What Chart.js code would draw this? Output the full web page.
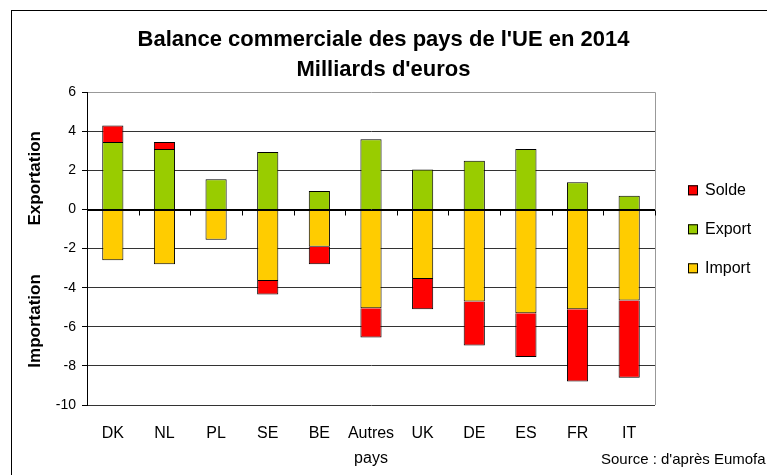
<!DOCTYPE html>
<html>
<head>
<meta charset="utf-8">
<script src="https://cdn.jsdelivr.net/npm/chart.js@4.4.1/dist/chart.umd.min.js"></script>
<style>
    body { margin: 0; background: #fff; }
    #wrap { width: 767px; height: 475px; position: relative; }
</style>
</head>
<body>
<div id="wrap"><canvas id="balanceChart"></canvas></div>
<script>
// ==================== DATA ====================

const countries = ['DK', 'NL', 'PL', 'SE', 'BE', ['Autres', 'pays'], 'UK', 'DE', 'ES', 'FR', 'IT'];
const exportValues = [3.45, 3.1, 1.55, 2.95, 0.95, 3.6, 2.05, 2.5, 3.1, 1.4, 0.7];
const importValues = [-2.6, -2.8, -1.55, -3.65, -1.9, -5.05, -3.55, -4.7, -5.3, -5.1, -4.65];
const soldeValues = [0.85, 0.35, 0, -0.7, -0.9, -1.5, -1.55, -2.25, -2.25, -3.7, -3.95];
const yTicks = [-10, -8, -6, -4, -2, 0, 2, 4, 6];

const titleLines = ["Balance commerciale des pays de l'UE en 2014", "Milliards d'euros"];
const sourceText = "Source : d'après Eumofa";

const COLORS = {
    solde: '#ff0000',
    export: '#99cc00',
    import: '#ffcc00'
};

Chart.defaults.font.family = "'Liberation Sans', Arial, sans-serif";
Chart.defaults.color = '#000';

// ==================== PLUGINS ====================

// white background + outer frame, source note
const framePlugin = {
    id: 'frame',
    beforeDraw(chart) {
        const ctx = chart.ctx;
        ctx.save();
        ctx.fillStyle = '#fff';
        ctx.fillRect(0, 0, chart.width, chart.height);
        ctx.strokeStyle = '#000';
        ctx.lineWidth = 1;
        ctx.strokeRect(11.5, 10.5, chart.width + 20, chart.height + 20);
        ctx.restore();
    },
    afterDraw(chart) {
        const ctx = chart.ctx;
        ctx.save();
        ctx.font = "15px 'Liberation Sans', Arial, sans-serif";
        ctx.fillStyle = '#000';
        ctx.textBaseline = 'middle';
        ctx.fillText(sourceText, 601, 460);
        ctx.restore();
    }
};

// plot border on the right, tick marks on the zero line, side titles
const axisExtrasPlugin = {
    id: 'axisExtras',
    afterDatasetsDraw(chart) {
        const { ctx, chartArea, scales } = chart;
        const x = scales.x;
        const y = scales.y;
        ctx.save();

        ctx.strokeStyle = '#999';
        ctx.lineWidth = 1;
        ctx.beginPath();
        ctx.moveTo(Math.round(chartArea.right) + 0.5, chartArea.top);
        ctx.lineTo(Math.round(chartArea.right) + 0.5, chartArea.bottom);
        ctx.stroke();

        // zero line with short marks between categories
        const zero = Math.round(y.getPixelForValue(0)) + 0.5;
        const step = x.getPixelForValue(1) - x.getPixelForValue(0);
        ctx.strokeStyle = '#000';
        ctx.beginPath();
        ctx.moveTo(chartArea.left, zero);
        ctx.lineTo(chartArea.right, zero);
        for (let i = 0; i < countries.length; i++) {
            const px = Math.round(x.getPixelForValue(i) + step / 2) + 0.5;
            ctx.moveTo(px, zero);
            ctx.lineTo(px, zero + 5);
        }
        ctx.stroke();

        ctx.font = "bold 17px 'Liberation Sans', Arial, sans-serif";
        ctx.fillStyle = '#000';
        ctx.textAlign = 'center';
        ctx.textBaseline = 'middle';
        [['Exportation', 1.6], ['Importation', -5.7]].forEach(([label, v]) => {
            ctx.save();
            ctx.translate(35, y.getPixelForValue(v));
            ctx.rotate(-Math.PI / 2);
            ctx.fillText(label, 0, 0);
            ctx.restore();
        });
        ctx.restore();
    }
};

// legend on the right: Solde, Export, Import
const sideLegendPlugin = {
    id: 'sideLegend',
    afterDraw(chart) {
        const { ctx, chartArea } = chart;
        const items = chart.data.datasets.slice().reverse();
        ctx.save();
        ctx.font = "16px 'Liberation Sans', Arial, sans-serif";
        ctx.textBaseline = 'middle';
        items.forEach((ds, i) => {
            const cy = chartArea.top + 98 + i * 39;
            const bx = chartArea.right + 33;
            ctx.fillStyle = ds.backgroundColor;
            ctx.fillRect(bx, cy - 5, 10, 10);
            ctx.strokeStyle = '#000';
            ctx.lineWidth = 1;
            ctx.strokeRect(bx + 0.5, cy - 4.5, 9, 9);
            ctx.fillStyle = '#000';
            ctx.fillText(ds.label, bx + 17, cy);
        });
        ctx.restore();
    }
};

// ==================== CHART ====================

function barDataset(label, values, color) {
    return {
        label: label,
        data: values,
        backgroundColor: color,
        borderColor: '#000',
        borderWidth: 1,
        borderSkipped: 'start',
        barPercentage: 0.41,
        categoryPercentage: 1
    };
}

new Chart(document.getElementById('balanceChart'), {
    type: 'bar',
    data: {
        labels: countries,
        datasets: [
            barDataset('Import', importValues, COLORS.import),
            barDataset('Export', exportValues, COLORS.export),
            barDataset('Solde', soldeValues, COLORS.solde)
        ]
    },
    options: {
        responsive: true,
        maintainAspectRatio: false,
        animation: false,
        layout: {
            padding: 0
        },
        plugins: {
            legend: { display: false },
            tooltip: { enabled: false },
            title: {
                display: true,
                text: titleLines,
                font: { size: 22, weight: 'bold', lineHeight: 1.37 },
                color: '#000',
                padding: { top: 25, bottom: 7 }
            }
        },
        scales: {
            x: {
                stacked: true,
                grid: { display: false },
                border: { display: false },
                ticks: {
                    font: { size: 16, lineHeight: 1.55 },
                    padding: 8,
                    maxRotation: 0,
                    autoSkip: false
                },
                afterFit(scale) { scale.height = 70; }
            },
            y: {
                stacked: true,
                min: -10,
                max: 6,
                afterBuildTicks(scale) {
                    scale.ticks = yTicks.map(v => ({ value: v }));
                },
                grid: {
                    color: ctx => {
                        if (ctx.tick && ctx.tick.value === 0) return '#000';
                        if (ctx.tick && ctx.tick.value === 6) return '#999';
                        return '#333';
                    },
                    tickColor: '#000',
                    tickLength: 5
                },
                border: { display: true, color: '#000' },
                ticks: {
                    font: { size: 14 },
                    padding: 6
                },
                afterFit(scale) { scale.width = 87; }
            },
            // empty right-hand axis: only keeps room for the legend
            legendRoom: {
                type: 'linear',
                position: 'right',
                grid: { display: false },
                border: { display: false },
                ticks: { display: false },
                afterFit(scale) { scale.width = 112; }
            }
        }
    },
    plugins: [framePlugin, axisExtrasPlugin, sideLegendPlugin]
});
</script>
</body>
</html>
